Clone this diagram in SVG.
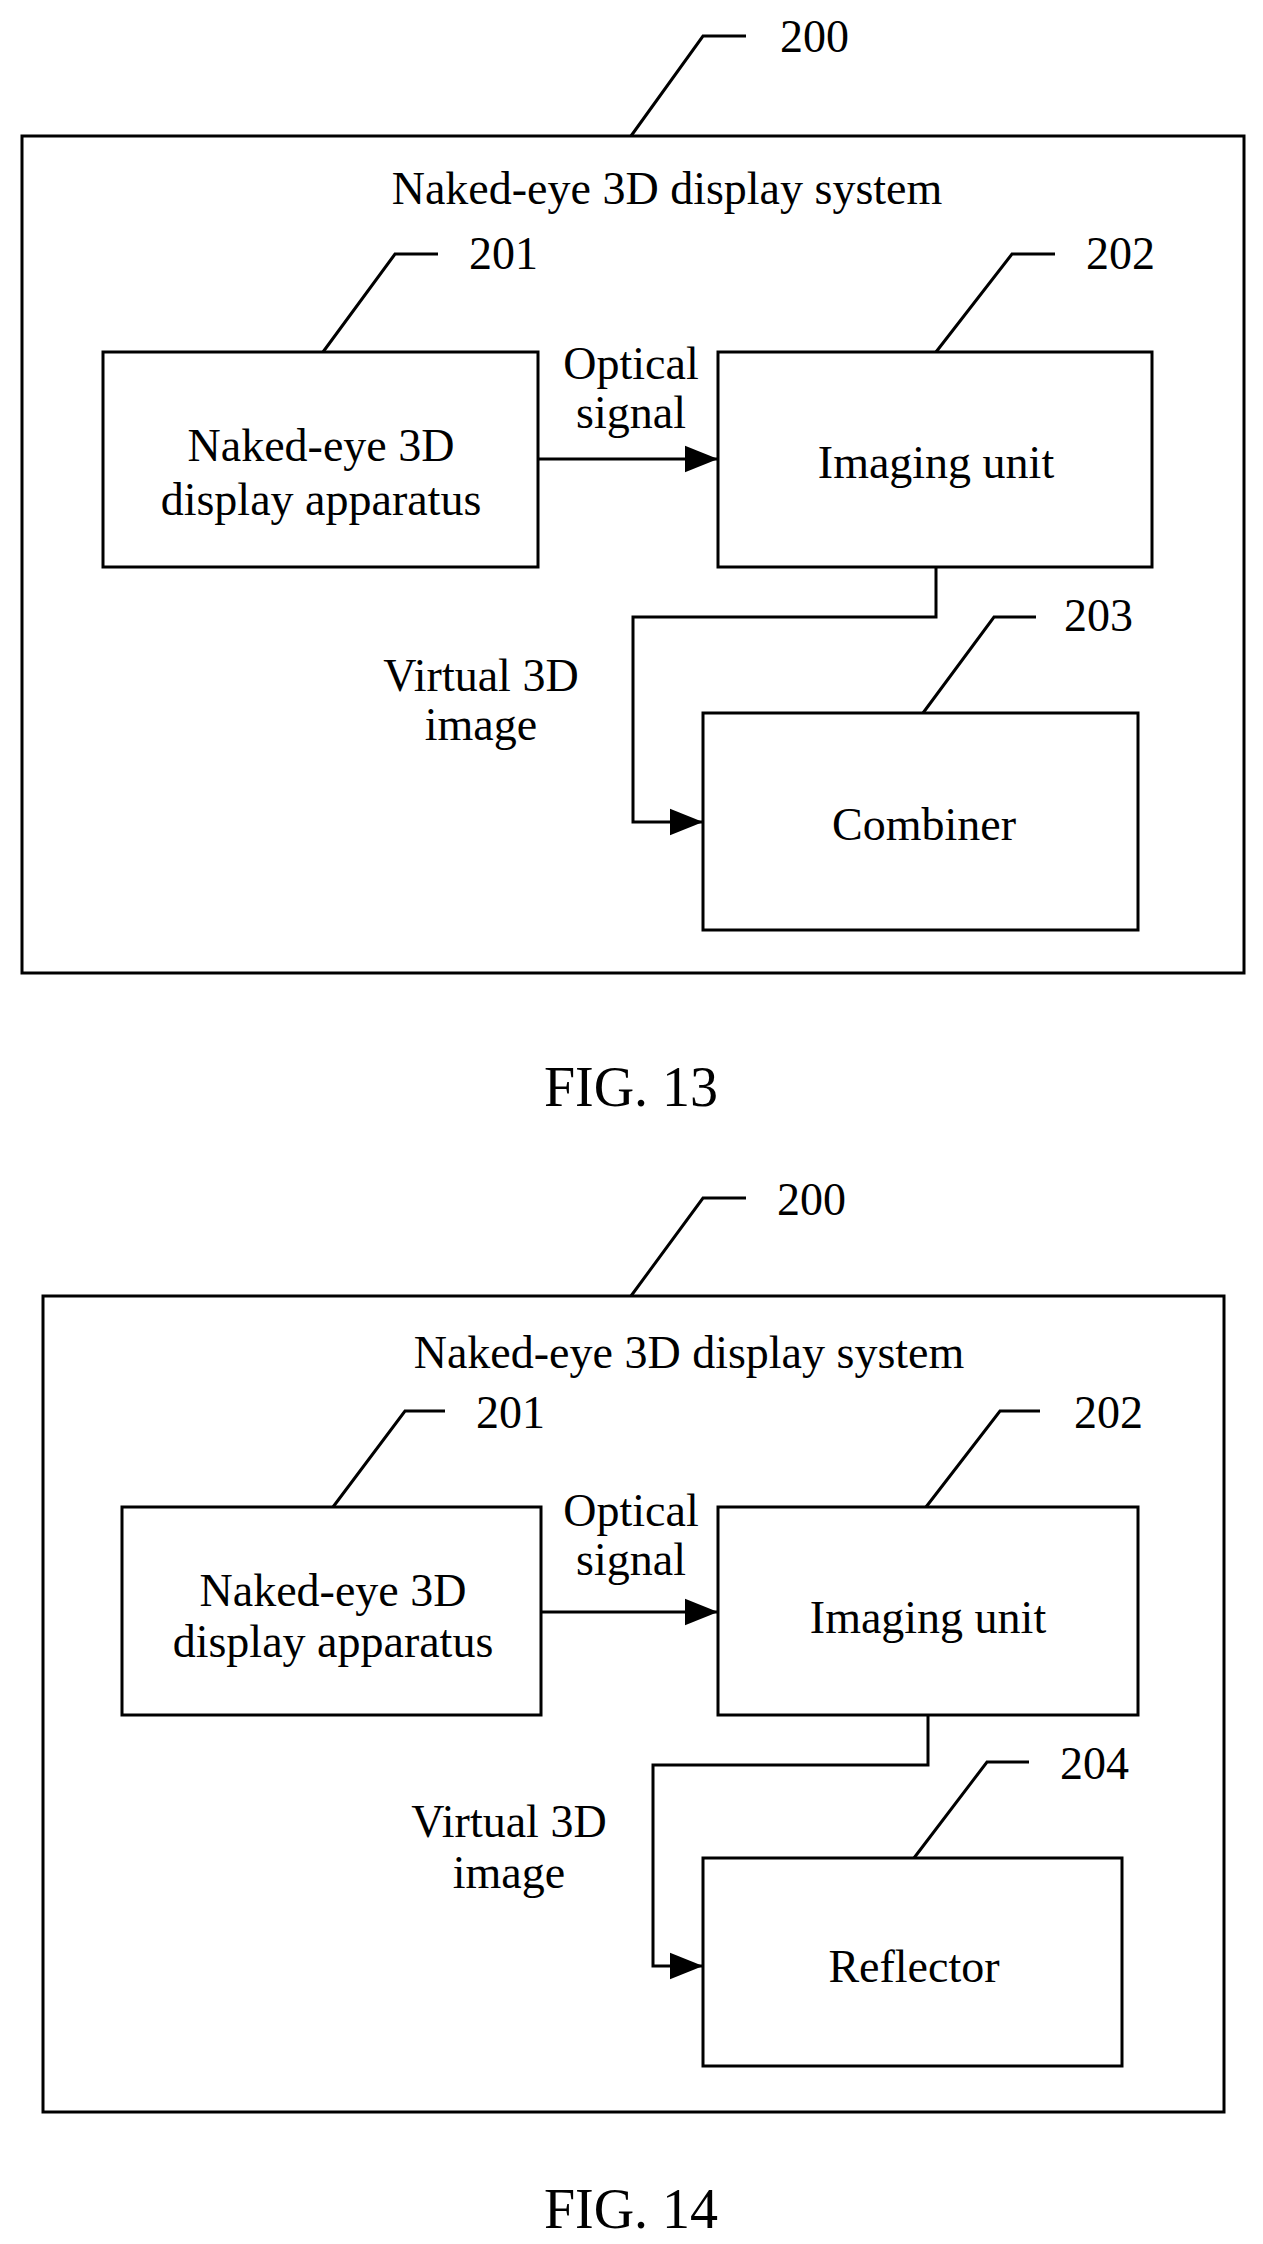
<svg xmlns="http://www.w3.org/2000/svg" width="1263" height="2244" viewBox="0 0 1263 2244">
<style>
rect{fill:none;stroke:#000;stroke-width:3}
.l{fill:none;stroke:#000;stroke-width:3}
text{font-family:"Liberation Serif",serif;font-size:46px;fill:#000;text-anchor:middle}
.n{text-anchor:start}
.cap{font-size:56px}
</style>
<defs>
<marker id="b" viewBox="0 0 10 10" refX="10" refY="5" markerWidth="11" markerHeight="11" orient="auto"><path d="M0,1 L10,5 L0,9z" fill="#000"/></marker></defs>
<rect x="0" y="0" width="1263" height="2244" style="fill:#fff;stroke:none"/>
<g id="sys13"><rect x="22" y="136" width="1222" height="837"/><polyline class="l" points="631,136 703,36 746,36"/><text class="n" x="780" y="52">200</text><text x="667" y="204">Naked-eye 3D display system</text></g>
<g id="n201a"><rect x="103" y="352" width="435" height="215"/><polyline class="l" points="323,352 395,254 438,254"/><text class="n" x="469" y="269">201</text><text x="321" y="461">Naked-eye 3D</text><text x="321" y="515">display apparatus</text></g>
<g id="n202a"><rect x="718" y="352" width="434" height="215"/><polyline class="l" points="936,352 1012,254 1055,254"/><text class="n" x="1086" y="269">202</text><text x="936" y="478">Imaging unit</text></g>
<g id="n203"><rect x="703" y="713" width="435" height="217"/><polyline class="l" points="923,713 994,617 1036,617"/><text class="n" x="1064" y="631">203</text><text x="924" y="840">Combiner</text></g>
<g id="cap13"><text class="cap" x="631" y="1106">FIG. 13</text></g>
<g id="conn13"><line class="l" x1="538" y1="459" x2="718" y2="459" marker-end="url(#b)"/><text x="631" y="379">Optical</text><text x="631" y="428">signal</text><polyline class="l" points="936,567 936,617 633,617 633,822 703,822" marker-end="url(#b)"/><text x="481" y="691">Virtual 3D</text><text x="481" y="740">image</text></g>
<g id="sys14"><rect x="43" y="1296" width="1181" height="816"/><polyline class="l" points="631,1296 703,1198 746,1198"/><text class="n" x="777" y="1215">200</text><text x="689" y="1368">Naked-eye 3D display system</text></g>
<g id="n201b"><rect x="122" y="1507" width="419" height="208"/><polyline class="l" points="333,1507 405,1411 445,1411"/><text class="n" x="476" y="1428">201</text><text x="333" y="1606">Naked-eye 3D</text><text x="333" y="1657">display apparatus</text></g>
<g id="n202b"><rect x="718" y="1507" width="420" height="208"/><polyline class="l" points="926,1507 1000,1411 1040,1411"/><text class="n" x="1074" y="1428">202</text><text x="928" y="1633">Imaging unit</text></g>
<g id="n204"><rect x="703" y="1858" width="419" height="208"/><polyline class="l" points="914,1858 987,1762 1029,1762"/><text class="n" x="1060" y="1779">204</text><text x="914" y="1982">Reflector</text></g>
<g id="cap14"><text class="cap" x="631" y="2228">FIG. 14</text></g>
<g id="conn14"><line class="l" x1="541" y1="1612" x2="718" y2="1612" marker-end="url(#b)"/><text x="631" y="1526">Optical</text><text x="631" y="1575">signal</text><polyline class="l" points="928,1715 928,1765 653,1765 653,1966 703,1966" marker-end="url(#b)"/><text x="509" y="1837">Virtual 3D</text><text x="509" y="1888">image</text></g>
</svg>
